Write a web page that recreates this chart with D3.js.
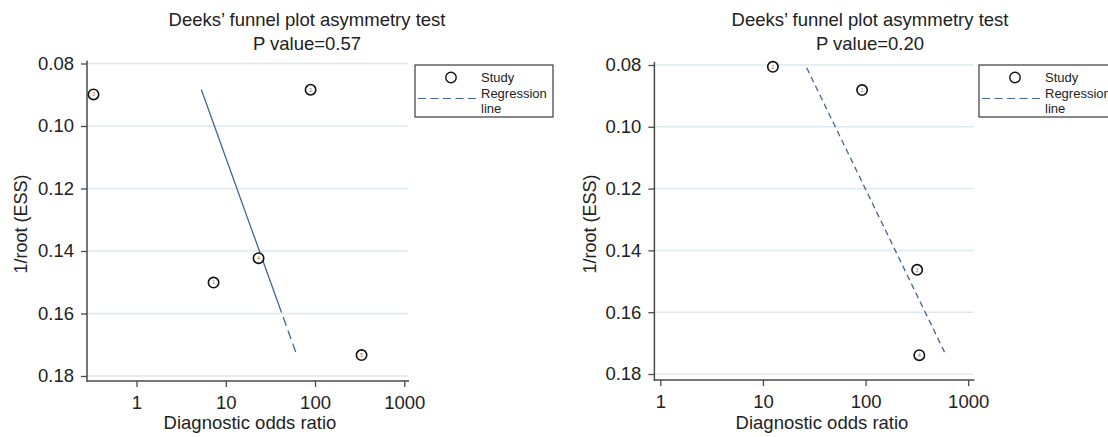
<!DOCTYPE html>
<html>
<head>
<meta charset="utf-8">
<script src="https://cdn.jsdelivr.net/npm/d3@7"></script>
<style>
  body { margin: 0; background: #fff; }
  svg { display: block; font-family: "Liberation Sans", Arial, sans-serif; }
  .tick text { fill: #222; }
</style>
</head>
<body>
<div id="chart"></div>
<script>
// values
const xTicks = [1, 10, 100, 1000];
const yTicks = [0.08, 0.10, 0.12, 0.14, 0.16, 0.18];
const pValues = ['0.57', '0.20'];

const leftStudies = ['1', '2', '3', '4', '5'];
const leftDor = [7.3, 89.2, 0.33, 23.3, 332];
const leftInvRootEss = [0.1501, 0.0884, 0.0899, 0.1423, 0.1733];
const leftRegDor = [5.32, 62.5];
const leftRegY = [0.0883, 0.1733];

const rightStudies = ['1', '2', '3', '4'];
const rightDor = [92.5, 12.5, 318, 334];
const rightInvRootEss = [0.0881, 0.0806, 0.1463, 0.1739];
const rightRegDor = [26.7, 602];
const rightRegY = [0.0809, 0.1736];

const WIDTH = 1108;
const HEIGHT = 437;
const LINE_COLOR = '#46658f';
const GRID_COLOR = '#dde9f0';
const AXIS_COLOR = '#4a4a4a';
const FONT = '18.5px';

const svg = d3.select('#chart')
              .append('svg')
              .attr('width', WIDTH)
              .attr('height', HEIGHT);

svg.append('rect').attr('width', WIDTH).attr('height', HEIGHT).attr('fill', '#fff');

function drawPanel(p) {
  const g = svg.append('g');

  const xScale = d3.scaleLog().domain([1, 1000]).range([p.x1, p.x1000]);
  const yScale = d3.scaleLinear().domain([0.08, 0.18]).range([p.yTop, p.yBottom]);

  // horizontal grid
  g.selectAll('.grid')
   .data(yTicks)
   .enter()
   .append('line')
   .attr('x1', p.axisX)
   .attr('x2', p.right)
   .attr('y1', d => yScale(d))
   .attr('y2', d => yScale(d))
   .attr('stroke', GRID_COLOR)
   .attr('stroke-width', 1.5);

  // axes
  const yAxis = d3.axisLeft(yScale).tickValues(yTicks).tickFormat(d3.format('.2f'))
                  .tickSize(6).tickPadding(7);
  const yg = g.append('g').attr('transform', 'translate(' + p.axisX + ',0)').call(yAxis);

  const xAxis = d3.axisBottom(xScale).tickValues(xTicks).tickFormat(d3.format('d'))
                  .tickSize(6).tickPadding(9);
  const xg = g.append('g').attr('transform', 'translate(0,' + p.axisY + ')').call(xAxis);

  [yg, xg].forEach(a => {
    a.select('.domain').remove();
    a.selectAll('.tick line').attr('stroke', AXIS_COLOR).attr('stroke-width', 1.3);
    a.selectAll('.tick text').style('font-size', FONT);
  });

  g.append('line')
   .attr('x1', p.axisX).attr('x2', p.axisX)
   .attr('y1', p.yTop - 3).attr('y2', p.axisY + 1)
   .attr('stroke', AXIS_COLOR).attr('stroke-width', 1.5);
  g.append('line')
   .attr('x1', p.axisX).attr('x2', p.right + 1)
   .attr('y1', p.axisY).attr('y2', p.axisY)
   .attr('stroke', AXIS_COLOR).attr('stroke-width', 1.5);

  // titles
  g.append('text')
   .attr('x', p.titleX).attr('y', 26)
   .attr('text-anchor', 'middle')
   .style('font-size', FONT).attr('fill', '#222')
   .text('Deeks\u2019 funnel plot asymmetry test');
  g.append('text')
   .attr('x', p.titleX).attr('y', 50)
   .attr('text-anchor', 'middle')
   .style('font-size', FONT).attr('fill', '#222')
   .text('P value=' + p.pValue);

  g.append('text')
   .attr('x', p.xLabelX).attr('y', 429)
   .attr('text-anchor', 'middle')
   .style('font-size', FONT).attr('fill', '#222')
   .text('Diagnostic odds ratio');

  g.append('text')
   .attr('transform', 'translate(' + p.yLabelX + ',224) rotate(-90)')
   .attr('text-anchor', 'middle')
   .style('font-size', '18px').attr('fill', '#222')
   .text('1/root (ESS)');

  // regression line
  const regPts = p.regDor.map((d, i) => [xScale(d), yScale(p.regY[i])]);
  const reg = g.append('path')
               .attr('d', d3.line()(regPts))
               .attr('fill', 'none')
               .attr('stroke', LINE_COLOR)
               .attr('stroke-width', 1.3);
  const len = reg.node().getTotalLength();
  if (p.solidFrac > 0) {
    const solid = len * p.solidFrac;
    let dash = [solid, 5];
    for (let s = solid + 5; s < len; s += 14) dash.push(9, 5);
    reg.attr('stroke-dasharray', dash.join(','));
  } else {
    reg.attr('stroke-dasharray', '6,4');
  }

  // studies
  const pts = g.selectAll('.study')
               .data(p.studies.map((s, i) => ({ id: s, dor: p.dor[i], y: p.ess[i] })))
               .enter()
               .append('g')
               .attr('transform', d => 'translate(' + xScale(d.dor) + ',' + yScale(d.y) + ')');
  pts.append('circle')
     .attr('r', 5.2)
     .attr('fill', '#fff')
     .attr('stroke', '#111')
     .attr('stroke-width', 1.6);
  pts.append('text')
     .attr('text-anchor', 'middle')
     .attr('dy', '0.35em')
     .style('font-size', '5px')
     .attr('fill', '#a0602a')
     .text(d => d.id);

  // legend
  const L = p.legendX;
  const lg = g.append('g');
  lg.append('rect')
    .attr('x', L).attr('y', 65)
    .attr('width', 138).attr('height', 52)
    .attr('fill', '#fff')
    .attr('stroke', '#3a3a3a')
    .attr('stroke-width', 1.2);
  lg.append('circle')
    .attr('cx', L + 36).attr('cy', 77.5)
    .attr('r', 5.2)
    .attr('fill', 'none')
    .attr('stroke', '#111')
    .attr('stroke-width', 1.4);
  lg.append('line')
    .attr('x1', L + 3).attr('x2', L + 64)
    .attr('y1', 98.5).attr('y2', 98.5)
    .attr('stroke', LINE_COLOR)
    .attr('stroke-width', 1.2)
    .attr('stroke-dasharray', '8,4.5');
  [['Study', 82], ['Regression', 97.5], ['line', 113]].forEach(t => {
    lg.append('text')
      .attr('x', L + 66).attr('y', t[1])
      .style('font-size', '13px').attr('fill', '#222')
      .text(t[0]);
  });
}

drawPanel({
  axisX: 87, right: 408, axisY: 381,
  x1: 136.5, x1000: 404.3, yTop: 63.5, yBottom: 376,
  titleX: 307, xLabelX: 250, yLabelX: 27, legendX: 415,
  pValue: pValues[0], solidFrac: 0.84,
  studies: leftStudies, dor: leftDor, ess: leftInvRootEss,
  regDor: leftRegDor, regY: leftRegY
});

drawPanel({
  axisX: 654.4, right: 973.5, axisY: 380,
  x1: 660.3, x1000: 968.2, yTop: 65, yBottom: 374,
  titleX: 870, xLabelX: 822, yLabelX: 596, legendX: 979,
  pValue: pValues[1], solidFrac: 0,
  studies: rightStudies, dor: rightDor, ess: rightInvRootEss,
  regDor: rightRegDor, regY: rightRegY
});
</script>
</body>
</html>
